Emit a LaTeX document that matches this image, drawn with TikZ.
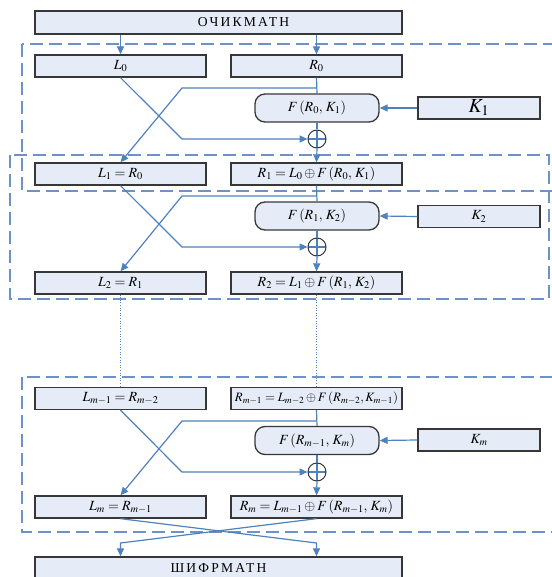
\documentclass[tikz,border=0pt]{standalone}
\usepackage{mathptmx}
\usepackage[no-math]{fontspec}
\setmainfont{Liberation Serif}
\usetikzlibrary{arrows.meta}
\definecolor{boxfill}{RGB}{229,236,247}
\definecolor{edge}{RGB}{55,55,55}
\definecolor{flow}{RGB}{79,129,189}
\definecolor{frame}{RGB}{110,146,200}
\begin{document}
\begin{tikzpicture}[x=1pt,y=-1pt,
  blk/.style={draw=edge,line width=1.3pt,fill=boxfill,minimum height=22pt,inner sep=0pt,font=\fontsize{14}{16}\selectfont},
  lbox/.style={blk,minimum width=171pt},
  fbox/.style={blk,rounded corners=10pt,minimum width=124pt,minimum height=28pt},
  kbox/.style={blk,minimum width=122pt},
  wide/.style={blk,minimum width=367pt,minimum height=23pt,font=\fontsize{13.6}{16}\selectfont\addfontfeature{LetterSpace=16}},
  xorc/.style={circle,draw=edge,line width=1pt,minimum size=18pt,inner sep=0pt,
    path picture={\draw[flow,line width=1.2pt] (path picture bounding box.west) -- (path picture bounding box.east)
                   (path picture bounding box.north) -- (path picture bounding box.south);}},
  flowline/.style={draw=flow,line width=1.2pt},
  arr/.style={flowline,-{Triangle[length=8pt,width=7pt]}},
  dots/.style={draw=flow,line width=1pt,dash pattern=on 1pt off 1.6pt},
  frm/.style={draw=frame,line width=1.5pt,dash pattern=on 13pt off 6pt}]
\useasboundingbox (0,0) rectangle (551,577);
% frames
\draw[frm] (22,44) rectangle (560,191);
\draw[frm] (10,155) rectangle (549,299);
\draw[frm] (22,377) rectangle (560,532);
% top
\node[wide] (pt) at (218.5,22.5) {\hspace*{50pt}ОЧИКМАТН};
% round 1
\node[lbox] (L0) at (120.5,66) {$L_0$};
\node[lbox] (R0) at (316.5,66) {$R_0$};
\node[fbox] (F1) at (317,108) {$F\,(R_0,\,K_1)$};
\node[kbox] (K1) at (479,108) {\fontsize{20}{22}\selectfont$K_1$};
\node[xorc] (c1) at (317,139) {};
\node[lbox] (L1) at (120.5,174) {$L_1=R_0$};
\node[lbox] (R1) at (316.5,174) {$R_1=L_0\oplus F\,(R_0,\,K_1)$};
% round 2
\node[fbox] (F2) at (317,216) {$F\,(R_1,\,K_2)$};
\node[kbox] (K2) at (479,216.5) {$K_2$};
\node[xorc] (c2) at (317,247) {};
\node[lbox] (L2) at (120.5,283) {$L_2=R_1$};
\node[lbox] (R2) at (316.5,283) {$R_2=L_1\oplus F\,(R_1,\,K_2)$};
% round m
\node[lbox] (Lm1) at (120.5,398.5) {$L_{m-1}=R_{m-2}$};
\node[lbox,font=\fontsize{12.8}{15}\selectfont] (Rm1) at (316.5,398.5) {$R_{m-1}=L_{m-2}\oplus F\,(R_{m-2},K_{m-1})$};
\node[fbox] (Fm) at (317,440.5) {$F\,(R_{m-1},\,K_m)$};
\node[kbox] (Km) at (479,440) {$K_m$};
\node[xorc] (cm) at (317,472) {};
\node[lbox] (Lm) at (120.5,507) {$L_m=R_{m-1}$};
\node[lbox] (Rm) at (316.5,507) {$R_m=L_{m-1}\oplus F\,(R_{m-1},\,K_m)$};
% bottom
\node[wide] (ct) at (218.5,568.5) {ШИФРМАТН};
% coordinates
\coordinate (b1) at (316.5,88);  \coordinate (a1) at (182,88);  \coordinate (d1) at (182,139);
\coordinate (b2) at (316.5,196); \coordinate (a2) at (182,196); \coordinate (d2) at (182,247);
\coordinate (bm) at (316.5,421); \coordinate (am) at (182,421); \coordinate (dm) at (182,472);
\coordinate (e1) at (316.5,543); \coordinate (e2) at (120.5,543);
% connectors
\draw[arr] (pt.south -| L0) -- (L0.north);
\draw[arr] (pt.south -| R0) -- (R0.north);
\foreach \L/\R/\F/\K/\c/\b/\a/\d/\Ln/\Rn in {L0/R0/F1/K1/c1/b1/a1/d1/L1/R1, L1/R1/F2/K2/c2/b2/a2/d2/L2/R2, Lm1/Rm1/Fm/Km/cm/bm/am/dm/Lm/Rm}{
  \draw[flowline] (\R.south) -- (\F.north);
  \draw[arr] (\b) -- (\a) -- (\Ln.north);
  \draw[arr] (\L.south) -- (\d) -- (\c.west);
  \draw[flowline] (\F.south) -- (\c.north);
  \draw[arr] (\c.south) -- (\Rn.north);
  \draw[arr] (\K.west) -- (\F.east);
}
\draw[dots] (L2.south) -- (Lm1.north);
\draw[dots] (R2.south) -- (Rm1.north);
\draw[arr] (Lm.south) -- (e1) -- (ct.north -| e1);
\draw[arr] (Rm.south) -- (e2) -- (ct.north -| e2);
\end{tikzpicture}
\end{document}
